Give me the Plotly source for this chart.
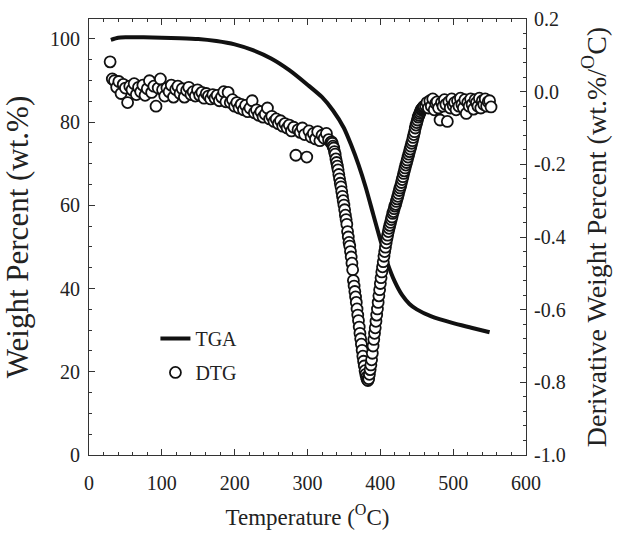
import plotly.graph_objects as go

# ---------------- data ----------------
tga_temp = [30, 40, 50, 75, 100, 125, 150, 175, 200, 225, 250, 275, 300, 320, 335, 350,
            360, 370, 380, 390, 400, 410, 420, 430, 440, 450, 470, 500, 525, 550]
tga_weight = [99.8, 100.3, 100.4, 100.4, 100.3, 100.2, 100.0, 99.5, 98.7, 97.3, 95.3, 92.5,
              89.0, 86.0, 82.8, 78.6, 74.5, 69.8, 64.3, 58.0, 51.7, 46.0, 41.6, 38.4,
              36.3, 35.0, 33.3, 31.7, 30.6, 29.5]

dtg_temp_a = [29, 32, 35, 38, 41, 44, 47, 50, 53, 56, 59, 62, 65, 68, 71, 74, 77, 80, 83, 86,
              89, 92, 95, 98, 101, 104, 107, 110, 113, 116, 119, 122, 125, 128, 131, 134, 137,
              140, 143, 146, 149, 152, 155, 158, 161, 164, 167, 170, 173, 176, 179, 182, 185,
              188, 191, 194, 197, 200, 203, 206, 209, 212, 215, 218, 221, 224, 227, 230, 233,
              236, 239, 242, 245, 248, 251, 254, 257, 260, 263, 266, 269, 272, 275, 278, 281,
              284, 287, 290, 293, 296, 299, 302, 305, 308, 311, 314, 317, 320, 323, 326, 329, 332]
dtg_value_a = [0.082, 0.035, 0.030, 0.012, 0.028, -0.005, 0.020, 0.010, -0.030, 0.015, 0.005,
               0.022, -0.008, 0.012, 0.000, 0.018, -0.010, 0.008, 0.030, -0.002, 0.015, -0.040,
               0.010, 0.035, 0.005, -0.012, 0.010, 0.000, 0.018, -0.015, 0.006, 0.015, -0.005,
               0.008, -0.015, 0.003, 0.012, -0.008, 0.000, -0.012, 0.005, -0.010, -0.002,
               -0.018, -0.005, -0.012, -0.020, -0.008, -0.018, -0.010, -0.025, -0.015, 0.000,
               -0.028, -0.002, -0.030, -0.022, -0.040, -0.030, -0.045, -0.035, -0.050, -0.038,
               -0.055, -0.045, -0.025, -0.058, -0.050, -0.065, -0.055, -0.070, -0.062, -0.045,
               -0.075, -0.068, -0.082, -0.075, -0.088, -0.080, -0.095, -0.088, -0.100, -0.092,
               -0.108, -0.098, -0.175, -0.105, -0.112, -0.100, -0.118, -0.180, -0.108, -0.125,
               -0.115, -0.130, -0.110, -0.135, -0.120, -0.128, -0.115, -0.132, -0.140]

dtg_temp_b = list(range(333, 461))
dtg_value_b = [-0.138, -0.142, -0.150, -0.155, -0.165, -0.172, -0.185, -0.195, -0.205, -0.215,
               -0.228, -0.240, -0.252, -0.262, -0.275, -0.288, -0.300, -0.312, -0.325, -0.340,
               -0.352, -0.365, -0.385, -0.400, -0.415, -0.425, -0.440, -0.455, -0.472, -0.490,
               -0.520, -0.535, -0.550, -0.565, -0.580, -0.598, -0.615, -0.630, -0.648, -0.665,
               -0.680, -0.695, -0.712, -0.728, -0.742, -0.755, -0.768, -0.778, -0.786, -0.792,
               -0.795, -0.790, -0.778, -0.765, -0.752, -0.738, -0.720, -0.700, -0.682, -0.665,
               -0.650, -0.632, -0.615, -0.598, -0.580, -0.562, -0.545, -0.528, -0.512, -0.496,
               -0.482, -0.468, -0.453, -0.440, -0.428, -0.416, -0.405, -0.395, -0.385, -0.376,
               -0.368, -0.360, -0.352, -0.345, -0.335, -0.330, -0.322, -0.315, -0.310, -0.302,
               -0.295, -0.288, -0.280, -0.272, -0.265, -0.258, -0.250, -0.242, -0.234, -0.225,
               -0.218, -0.210, -0.202, -0.195, -0.188, -0.180, -0.172, -0.165, -0.158, -0.150,
               -0.142, -0.135, -0.126, -0.118, -0.110, -0.100, -0.092, -0.085, -0.078, -0.070,
               -0.065, -0.060, -0.055, -0.050, -0.048, -0.045, -0.042, -0.040]

dtg_temp_c = [462, 464, 466, 468, 470, 472, 474, 476, 478, 480, 482, 484, 486, 488, 490, 492,
              494, 496, 498, 500, 502, 504, 506, 508, 510, 512, 514, 516, 518, 520, 522, 524,
              526, 528, 530, 532, 534, 536, 538, 540, 542, 544, 546, 548, 550, 552]
dtg_value_c = [-0.038, -0.030, -0.045, -0.025, -0.040, -0.020, -0.050, -0.032, -0.028, -0.045,
               -0.078, -0.030, -0.040, -0.022, -0.035, -0.082, -0.028, -0.045, -0.020, -0.038,
               -0.030, -0.050, -0.025, -0.040, -0.018, -0.035, -0.045, -0.022, -0.060, -0.030,
               -0.040, -0.020, -0.035, -0.048, -0.022, -0.030, -0.040, -0.018, -0.045, -0.025,
               -0.035, -0.020, -0.040, -0.028, -0.025, -0.042]

x_tick_vals = [0, 100, 200, 300, 400, 500, 600]
y_tick_vals = [0, 20, 40, 60, 80, 100]
y2_tick_vals = [-1.0, -0.8, -0.6, -0.4, -0.2, 0.0, 0.2]
y2_tick_text = ["-1.0", "-0.8", "-0.6", "-0.4", "-0.2", "0.0", "0.2"]

dtg_temp = dtg_temp_a + dtg_temp_b + dtg_temp_c
dtg_value = dtg_value_a + dtg_value_b + dtg_value_c

FONT = "Liberation Serif"

fig = go.Figure()
fig.add_trace(go.Scatter(x=tga_temp, y=tga_weight, mode="lines", name="TGA",
                         legendgroup="a",
                         line=dict(color="#111", width=4, shape="spline", smoothing=0.6),
                         yaxis="y"))
fig.add_trace(go.Scatter(x=dtg_temp, y=dtg_value, mode="markers", name="DTG",
                         legendgroup="b",
                         marker=dict(symbol="circle", size=11, color="white",
                                     line=dict(color="#111", width=1.8)),
                         yaxis="y2"))

axis_common = dict(showline=True, linecolor="#333", linewidth=1, ticks="inside",
                   ticklen=6, tickcolor="#333", showgrid=False, zeroline=False,
                   automargin=False,
                   tickfont=dict(family=FONT, size=20, color="#222"))

fig.update_layout(
    width=618, height=537,
    margin=dict(l=89, r=92, t=19, b=82),
    paper_bgcolor="white", plot_bgcolor="white",
    font=dict(family=FONT, color="#222"),
    xaxis=dict(range=[0, 600], tickvals=x_tick_vals, mirror="ticks",
               ticklabelstandoff=10,
               minor=dict(dtick=20, tick0=0, ticks="inside", ticklen=3, tickcolor="#333"),
               title=dict(text="Temperature (<sup>O</sup>C)", font=dict(family=FONT, size=23),
                          standoff=15),
               **axis_common),
    yaxis=dict(range=[0, 104.8], tickvals=y_tick_vals, ticklabelstandoff=4,
               minor=dict(dtick=5, tick0=0, ticks="inside", ticklen=3, tickcolor="#333"),
               title=dict(text="Weight Percent (wt.%)", font=dict(family=FONT, size=31),
                          standoff=16),
               **axis_common),
    yaxis2=dict(range=[-1.0, 0.2], overlaying="y", side="right",
                tickvals=y2_tick_vals, ticktext=y2_tick_text, ticklabelstandoff=3,
                minor=dict(dtick=0.04, tick0=-1.0, ticks="inside", ticklen=3, tickcolor="#333"),
                title=dict(text="Derivative Weight Percent (wt.%/<sup>O</sup>C)",
                           font=dict(family=FONT, size=28), standoff=21),
                **axis_common),
    showlegend=True,
    legend=dict(x=0.152, y=0.312, xanchor="left", yanchor="top",
                bgcolor="rgba(0,0,0,0)", font=dict(family=FONT, size=20),
                tracegroupgap=5),
)

fig.write_html("out.html",
               config={"displayModeBar": False},
               post_script="document.body.style.margin='0';document.body.style.overflow='hidden';")
